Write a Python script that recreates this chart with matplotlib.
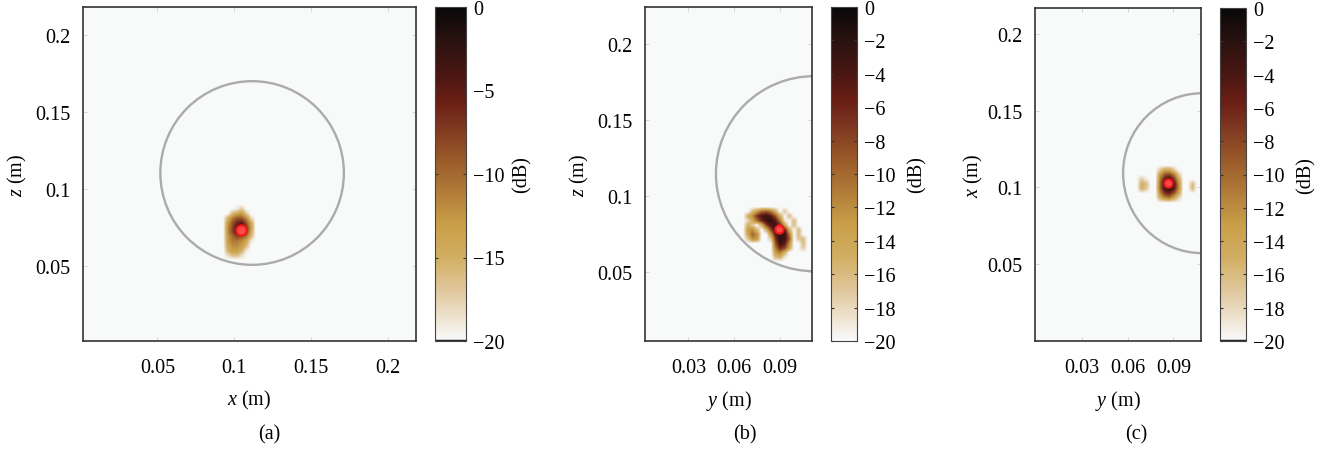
import numpy as np
import matplotlib
matplotlib.use("Agg")
import matplotlib.pyplot as plt
from matplotlib.colors import LinearSegmentedColormap
from matplotlib.patches import Circle

# ---------------------------------------------------------------
# data (dB maps, coarse grid, step 3 mm)
# ---------------------------------------------------------------
step = 0.003

# (a) x-z plane
a_x = [0.093, 0.096, 0.099, 0.102, 0.105, 0.108, 0.111, 0.114]
a_z = [0.090, 0.087, 0.084, 0.081, 0.078, 0.075, 0.072, 0.069, 0.066, 0.063, 0.060, 0.057, 0.054]
a_db = [
    [-20, -20, -20, -20, -20, -20, -20, -20],
    [-20, -20, -20, -19, -17, -20, -20, -20],
    [-20, -20, -16, -14, -13, -17, -20, -20],
    [-20, -15, -11, -9, -9, -12, -18, -20],
    [-20, -13, -9, -6, -5, -9, -14, -20],
    [-20, -12, -8, -4, -1, -7, -13, -20],
    [-20, -12, -8, -4, -2, -7, -14, -20],
    [-20, -13, -10, -8, -9, -11, -16, -20],
    [-20, -13, -11, -11, -12, -14, -19, -20],
    [-20, -14, -12, -12, -13, -16, -20, -20],
    [-20, -15, -13, -13, -15, -19, -20, -20],
    [-20, -18, -16, -16, -18, -20, -20, -20],
    [-20, -20, -20, -20, -20, -20, -20, -20],
]

# (b) y-z plane
b_y = [0.066, 0.069, 0.072, 0.075, 0.078, 0.081, 0.084, 0.087,
       0.090, 0.093, 0.096, 0.099, 0.102, 0.105, 0.108, 0.111]
b_z = [0.096, 0.093, 0.090, 0.087, 0.084, 0.081, 0.078, 0.075,
       0.072, 0.069, 0.066, 0.063, 0.060, 0.057]
b_db = [
    [-20, -20, -20, -20, -20, -20, -20, -20, -20, -20, -20, -20, -20, -20, -20, -20],
    [-20, -20, -20, -20, -20, -20, -20, -20, -20, -20, -20, -20, -20, -20, -20, -20],
    [-20, -20, -16, -13, -10, -9, -11, -15, -20, -17, -20, -20, -20, -20, -20, -20],
    [-20, -15, -12, -7, -4, -3, -5, -9, -15, -20, -16, -20, -20, -20, -20, -20],
    [-20, -18, -14, -10, -6, -3, -2, -5, -11, -19, -20, -16, -20, -20, -20, -20],
    [-20, -15, -17, -20, -15, -8, -4, -3, -6, -14, -20, -16, -20, -20, -20, -20],
    [-20, -13, -12, -16, -20, -15, -8, -3, -1, -5, -15, -20, -16, -20, -20, -20],
    [-20, -14, -10, -12, -20, -20, -13, -5, -2, -3, -11, -20, -16, -20, -20, -20],
    [-20, -17, -12, -13, -20, -20, -17, -7, -2, -3, -9, -20, -17, -16, -20, -20],
    [-20, -20, -20, -20, -20, -20, -20, -9, -3, -5, -12, -20, -20, -16, -20, -20],
    [-20, -20, -20, -20, -20, -20, -20, -11, -6, -8, -14, -20, -20, -17, -20, -20],
    [-20, -20, -20, -20, -20, -20, -20, -13, -11, -15, -20, -20, -20, -20, -20, -20],
    [-20, -20, -20, -20, -20, -20, -20, -16, -15, -19, -20, -20, -20, -20, -20, -20],
    [-20, -20, -20, -20, -20, -20, -20, -20, -20, -20, -20, -20, -20, -20, -20, -20],
]

# (c) y-x plane
c_y = [0.063, 0.066, 0.069, 0.072, 0.075, 0.078, 0.081, 0.084,
       0.087, 0.090, 0.093, 0.096, 0.099, 0.102, 0.105, 0.108]
c_x = [0.114, 0.111, 0.108, 0.105, 0.102, 0.099, 0.096, 0.093, 0.090]
c_db = [
    [-20, -20, -20, -20, -20, -20, -20, -20, -20, -20, -20, -20, -20, -20, -20, -20],
    [-20, -20, -20, -20, -20, -20, -17, -14, -14, -17, -20, -20, -20, -20, -20, -20],
    [-20, -20, -20, -20, -20, -20, -13, -9, -8, -11, -17, -20, -20, -20, -20, -20],
    [-20, -20, -17, -19, -20, -20, -11, -5, -3, -7, -14, -20, -20, -20, -20, -20],
    [-20, -20, -15, -16, -20, -20, -10, -3, -1, -4, -12, -20, -20, -16, -20, -20],
    [-20, -20, -15, -17, -20, -20, -10, -4, -2, -5, -12, -20, -20, -16, -20, -20],
    [-20, -20, -20, -20, -20, -20, -12, -7, -6, -9, -14, -20, -20, -20, -20, -20],
    [-20, -20, -20, -20, -20, -20, -15, -12, -11, -14, -18, -20, -20, -20, -20, -20],
    [-20, -20, -20, -20, -20, -20, -20, -20, -20, -20, -20, -20, -20, -20, -20, -20],
]

# breast outline circles (center h, center v, radius) and target positions
circle_a = (0.1117, 0.1104, 0.0598)
circle_b = (0.1120, 0.1146, 0.0640)
circle_c = (0.1090, 0.1093, 0.0520)
target_a = (0.1045, 0.0730)
target_b = (0.0890, 0.0780)
target_c = (0.0864, 0.1026)

xt_a = [0.05, 0.1, 0.15, 0.2]
xt_bc = [0.03, 0.06, 0.09]
yt = [0.05, 0.1, 0.15, 0.2]
cb_ticks_a = [0, -5, -10, -15, -20]
cb_ticks_bc = [0, -2, -4, -6, -8, -10, -12, -14, -16, -18, -20]

# ---------------------------------------------------------------
plt.rcParams['font.family'] = ['Liberation Serif', 'DejaVu Serif']
plt.rcParams['mathtext.fontset'] = 'custom'
plt.rcParams['mathtext.it'] = 'Liberation Serif:italic'
plt.rcParams['mathtext.rm'] = 'Liberation Serif'
plt.rcParams['font.size'] = 14.5

cmap = LinearSegmentedColormap.from_list('dbmap', [
    (0.00, '#f8f9f9'),
    (0.05, '#f1e9dc'),
    (0.15, '#e0c79c'),
    (0.25, '#d2ae62'),
    (0.35, '#c99e48'),
    (0.45, '#b07a38'),
    (0.55, '#985828'),
    (0.65, '#7c3420'),
    (0.72, '#6a1e14'),
    (0.80, '#4a1612'),
    (0.90, '#2a1210'),
    (1.00, '#080808'),
])

fig = plt.figure(figsize=(13.28, 4.52), dpi=100, facecolor='white')
W, H = 1328.0, 452.0


def rect(l, t, r, b):
    return [l / W, 1 - b / H, (r - l) / W, (b - t) / H]


panels = [
    dict(ax=rect(83, 8, 416, 342), cax=rect(435, 8, 466, 342),
         h=a_x, v=a_z, db=a_db, xlim=(0.0015, 0.2185), ylim=(0.001, 0.2185),
         circ=circle_a, tgt=target_a, xt=xt_a, xlabel='$x$ (m)', ylabel='$z$ (m)',
         cbt=cb_ticks_a, ylab_x=-0.162, cbl_x=2.5, tag='(a)', tag_x=269, msz=7.5, bar=True),
    dict(ax=rect(645, 8, 812, 342), cax=rect(831, 8, 857, 342),
         h=b_y, v=b_z, db=b_db, xlim=(0.0017, 0.1107), ylim=(0.0048, 0.224),
         circ=circle_b, tgt=target_b, xt=xt_bc, xlabel='$y$ (m)', ylabel='$z$ (m)',
         cbt=cb_ticks_bc, ylab_x=-0.325, cbl_x=2.95, tag='(b)', tag_x=745, msz=6, bar=False),
    dict(ax=rect(1035, 9, 1201, 342), cax=rect(1220, 9, 1246, 342),
         h=c_y, v=c_x, db=c_db, xlim=(-0.0008, 0.1081), ylim=(0.0002, 0.2167),
         circ=circle_c, tgt=target_c, xt=xt_bc, xlabel='$y$ (m)', ylabel='$x$ (m)',
         cbt=cb_ticks_bc, ylab_x=-0.30, cbl_x=2.95, tag='(c)', tag_x=1136, msz=6, bar=True),
]

for p in panels:
    ax = fig.add_axes(p['ax'])
    cax = fig.add_axes(p['cax'])
    ax.set_facecolor('#f8f9f9')

    h0, h1 = min(p['h']), max(p['h'])
    v0, v1 = min(p['v']), max(p['v'])
    im = ax.imshow(np.array(p['db'], dtype=float), cmap=cmap, vmin=-20, vmax=0,
                   origin='upper', interpolation='bilinear', aspect='auto',
                   extent=[h0 - step / 2, h1 + step / 2, v0 - step / 2, v1 + step / 2])

    ch, cv, r = p['circ']
    ax.add_patch(Circle((ch, cv), r, fill=False, ec='#ababab', lw=1.7))
    ax.plot(p['tgt'][0], p['tgt'][1], 'o', ms=p['msz'], mfc='#ff4a4a',
            mec='#f01818', mew=1.5)

    ax.set_xlim(*p['xlim'])
    ax.set_ylim(*p['ylim'])
    ax.set_xticks(p['xt'])
    ax.set_xticklabels([f'{t:g}' for t in p['xt']])
    ax.set_yticks(yt)
    ax.set_yticklabels([f'{t:g}' for t in yt])
    ax.tick_params(direction='in', length=3, width=0.6, color='#d0d0d0',
                   top=True, right=True, labelsize=14.5)
    ax.tick_params(axis='x', pad=12)
    ax.tick_params(axis='y', pad=9)
    for s in ax.spines.values():
        s.set_color('#333333')
        s.set_linewidth(1.2)
    ax.set_xlabel(p['xlabel'], fontsize=14.5)
    ax.xaxis.set_label_coords(0.5, -0.14)
    ax.set_ylabel(p['ylabel'], fontsize=14.5)
    ax.yaxis.set_label_coords(p['ylab_x'], 0.5)

    cb = fig.colorbar(im, cax=cax)
    cb.set_ticks(p['cbt'])
    cb.set_ticklabels([f'{t:g}'.replace('-', '\u2212') for t in p['cbt']])
    cax.tick_params(direction='in', length=2, width=0.8, color='#333333',
                    left=True, right=True, pad=5, labelsize=14.5)
    cb.outline.set_edgecolor('#444444')
    cb.outline.set_linewidth(0.8)
    if p['bar']:
        cax.axhline(-20, color='#222222', lw=2.5)
    cb.set_label('(dB)', fontsize=14.5)
    cax.yaxis.set_label_coords(p['cbl_x'], 0.5)

    fig.text(p['tag_x'] / W, 1 - 435 / H, p['tag'], ha='center', va='center', fontsize=14.5)

fig.savefig('out.png', dpi=100, facecolor='white')
